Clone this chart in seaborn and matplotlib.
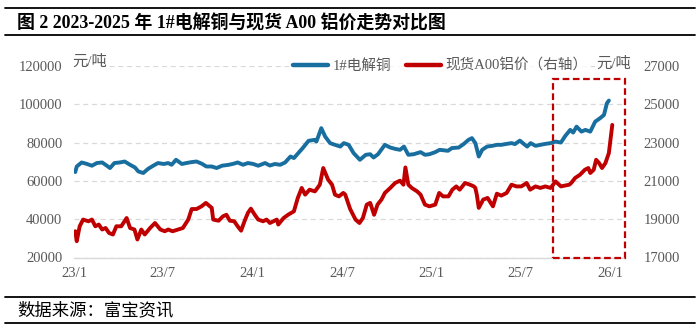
import numpy as np
import pandas as pd
import matplotlib
matplotlib.use("Agg")
import matplotlib.pyplot as plt
import matplotlib.dates as mdates
from matplotlib.lines import Line2D
from matplotlib.patches import Rectangle
import seaborn as sns

# ---------------- data ----------------
cu_dates = [
    "2023-01-03", "2023-01-06", "2023-01-16", "2023-01-26",
    "2023-02-06", "2023-02-16", "2023-02-27",
    "2023-03-08", "2023-03-15", "2023-03-24",
    "2023-04-04", "2023-04-14", "2023-04-25",
    "2023-05-05", "2023-05-12", "2023-05-22",
    "2023-06-01", "2023-06-12", "2023-06-21",
    "2023-07-03", "2023-07-12", "2023-07-19", "2023-07-28",
    "2023-08-09", "2023-08-18", "2023-08-29",
    "2023-09-08", "2023-09-19", "2023-09-28",
    "2023-10-09", "2023-10-19", "2023-10-30",
    "2023-11-13", "2023-11-22",
    "2023-12-01", "2023-12-12", "2023-12-22",
    "2024-01-02", "2024-01-12", "2024-01-26",
    "2024-02-05", "2024-02-15", "2024-02-26",
    "2024-03-07", "2024-03-18", "2024-03-25",
    "2024-04-03", "2024-04-12", "2024-04-24",
    "2024-05-06", "2024-05-10", "2024-05-20", "2024-05-28",
    "2024-06-07", "2024-06-17", "2024-06-28",
    "2024-07-05", "2024-07-15", "2024-07-25",
    "2024-08-07", "2024-08-19", "2024-08-28",
    "2024-09-04", "2024-09-13", "2024-09-27",
    "2024-10-08", "2024-10-18", "2024-10-28",
    "2024-11-05", "2024-11-14", "2024-11-25",
    "2024-12-09", "2024-12-18", "2024-12-27",
    "2025-01-08", "2025-01-17",
    "2025-02-03", "2025-02-11", "2025-02-25",
    "2025-03-07", "2025-03-17", "2025-03-24", "2025-03-31",
    "2025-04-07", "2025-04-14", "2025-04-24",
    "2025-05-05", "2025-05-14", "2025-05-23",
    "2025-06-03", "2025-06-13", "2025-06-20", "2025-06-30",
    "2025-07-08", "2025-07-15", "2025-07-22",
    "2025-08-01", "2025-08-11", "2025-08-21",
    "2025-09-01", "2025-09-11", "2025-09-22",
    "2025-10-01", "2025-10-11", "2025-10-17", "2025-10-24",
    "2025-11-03", "2025-11-11", "2025-11-21",
    "2025-12-01", "2025-12-11", "2025-12-19", "2025-12-25", "2025-12-29",
]
cu_prices = [
    64600, 67500, 69600, 68900,
    67900, 69300, 69600,
    68000, 66700, 69300,
    69600, 70100, 68400,
    67000, 64900, 64100,
    66300, 68000, 69300,
    68800, 69300, 68400, 71000,
    68800, 69300, 69800,
    70100, 68900, 67500,
    67500, 66700, 67900,
    68400, 68900,
    69600, 68400, 69300,
    68800, 67900, 69300,
    68000, 68800, 68400,
    69600, 72700, 71900,
    74500, 77100, 80900,
    81400, 80500, 87500, 83100,
    79700, 78800, 77900,
    79700, 78800, 74500,
    71000, 73600, 73900,
    72200, 73900, 78800,
    77400, 76700, 76200,
    77900, 73600, 73900,
    75000, 73600, 73900,
    75000, 76200,
    75700, 77100, 77400,
    79200, 81400, 82300, 79700,
    72700, 76200, 77900,
    78300, 78800, 78800,
    79300, 79700, 79200, 81000,
    79300, 77900, 79700,
    78300, 78800, 79300,
    79700, 80500, 80000,
    83500, 86600, 85200, 88300,
    85700, 86600, 85700,
    90900, 92700, 94400, 100500, 101900,
]

al_dates = [
    "2023-01-03", "2023-01-06", "2023-01-12", "2023-01-19", "2023-01-30",
    "2023-02-06", "2023-02-13", "2023-02-20", "2023-02-27",
    "2023-03-06", "2023-03-13", "2023-03-21", "2023-03-28",
    "2023-04-07", "2023-04-18", "2023-04-25",
    "2023-05-04", "2023-05-10", "2023-05-18", "2023-05-25",
    "2023-06-05", "2023-06-15", "2023-06-26",
    "2023-07-05", "2023-07-12", "2023-07-21",
    "2023-08-01", "2023-08-11", "2023-08-22", "2023-08-29",
    "2023-09-08", "2023-09-18", "2023-09-27",
    "2023-10-09", "2023-10-12", "2023-10-23",
    "2023-11-01", "2023-11-08", "2023-11-15", "2023-11-24",
    "2023-12-01", "2023-12-08", "2023-12-15", "2023-12-22", "2023-12-28",
    "2024-01-05", "2024-01-12", "2024-01-22", "2024-01-29",
    "2024-02-05", "2024-02-19", "2024-02-22",
    "2024-03-04", "2024-03-13", "2024-03-25",
    "2024-04-02", "2024-04-10", "2024-04-17", "2024-04-26",
    "2024-05-07", "2024-05-17", "2024-05-24",
    "2024-06-03", "2024-06-11", "2024-06-17", "2024-06-25",
    "2024-07-04", "2024-07-08", "2024-07-18", "2024-07-29",
    "2024-08-06", "2024-08-13", "2024-08-21", "2024-08-28",
    "2024-09-05", "2024-09-12", "2024-09-20", "2024-09-27",
    "2024-10-08", "2024-10-18", "2024-10-28",
    "2024-11-04", "2024-11-08", "2024-11-14", "2024-11-21",
    "2024-12-02", "2024-12-09", "2024-12-18", "2024-12-27",
    "2025-01-08", "2025-01-16", "2025-01-24",
    "2025-02-04", "2025-02-12", "2025-02-20", "2025-02-27",
    "2025-03-10", "2025-03-20", "2025-03-28", "2025-03-31",
    "2025-04-03", "2025-04-07", "2025-04-16", "2025-04-25",
    "2025-05-06", "2025-05-14", "2025-05-23",
    "2025-06-03", "2025-06-13", "2025-06-23",
    "2025-07-03", "2025-07-14", "2025-07-21",
    "2025-08-01", "2025-08-11", "2025-08-21",
    "2025-09-01", "2025-09-11", "2025-09-22",
    "2025-10-09", "2025-10-13", "2025-10-21", "2025-10-31",
    "2025-11-10", "2025-11-17", "2025-11-21", "2025-11-28",
    "2025-12-03", "2025-12-09", "2025-12-15", "2025-12-22", "2025-12-29",
    "2026-01-02", "2026-01-05",
]
al_prices = [
    18370, 17850, 18630, 18980, 18890,
    18980, 18630, 18720, 18460,
    18540, 18280, 18200, 18630,
    18630, 19060, 18540,
    18460, 17940, 18460, 18200,
    18540, 18800, 18460,
    18370, 18460, 18370,
    18460, 18540, 18980, 19530,
    19530, 19670, 19850,
    19590, 18980, 18920,
    19150, 19230, 18920, 18890,
    18630, 18400, 18890, 19330, 19550,
    19230, 18980, 18890, 18980,
    18800, 18980, 18720,
    19060, 19230, 19410,
    20110, 20630, 20280, 20540,
    20450, 20800, 21670,
    21060, 20800, 20280, 20190,
    20370, 20280, 19530, 18980,
    18800, 19060, 19760, 19850,
    19230, 19760, 20020, 20370,
    20630, 20890, 21010,
    20800, 21700, 20800, 20630,
    20450, 20280, 19760, 19670,
    19760, 20370, 20190,
    20190, 20540, 20710, 20540,
    20890, 20800, 20710, 20630,
    20280, 19590, 20020, 20110,
    19670, 20330, 20230,
    20370, 20800, 20710,
    20710, 20890, 20540,
    20710, 20630, 20710,
    20630, 20970, 20710,
    20800, 20890, 21150, 21320,
    21580, 21670, 21410, 21580,
    22100, 21930, 21670, 21930, 22450,
    23310, 23920,
]

tick_dates = ["2023-01-01", "2023-07-01", "2024-01-01", "2024-07-01",
              "2025-01-01", "2025-07-01", "2026-01-01"]
tick_labels = ["23/1", "23/7", "24/1", "24/7", "25/1", "25/7", "26/1"]
left_ticks = [20000, 40000, 60000, 80000, 100000, 120000]
right_ticks = [17000, 19000, 21000, 23000, 25000, 27000]

cu_name = "1#电解铜"
al_name = "现货A00铝价（右轴）"
title = "图 2 2023-2025 年 1#电解铜与现货 A00 铝价走势对比图"
source = "数据来源：富宝资讯"
unit = "元/吨"

# highlight window (red dashed box)
hl_start, hl_end = "2025-09-06", "2026-01-31"
hl_top = 113200

# ---------------- styling ----------------
sns.set_theme(style="white")
FAM = ['Liberation Serif', 'Noto Sans CJK SC', 'DejaVu Sans']
plt.rcParams['font.family'] = FAM
plt.rcParams['axes.unicode_minus'] = False

CU_COLOR = "#186E9E"
AL_COLOR = "#C00000"
GRID = "#D9D9D9"
LABEL = "#595959"

W, H = 700, 328
fig = plt.figure(figsize=(W / 100, H / 100), dpi=100)
fx = lambda px: px / W
fy = lambda py: 1 - py / H

ax = fig.add_axes([fx(74.3), fy(257.5), fx(625) - fx(74.3), fy(65.9) - fy(257.5)])
ax2 = ax.twinx()

df_cu = pd.DataFrame({"date": pd.to_datetime(cu_dates), "price": cu_prices})
df_al = pd.DataFrame({"date": pd.to_datetime(al_dates), "price": al_prices})

sns.lineplot(data=df_cu, x="date", y="price", ax=ax, color=CU_COLOR,
             linewidth=2.8, legend=False, zorder=3)
sns.lineplot(data=df_al, x="date", y="price", ax=ax2, color=AL_COLOR,
             linewidth=2.8, legend=False, zorder=3)

xmin, xmax = pd.Timestamp("2023-01-01"), pd.Timestamp(hl_end)
ax.set_xlim(xmin, xmax)
ax.set_ylim(20000, 120000)
ax2.set_ylim(17000, 27000)

ax.set_xticks(pd.to_datetime(tick_dates))
ax.set_xticklabels(tick_labels)
ax.set_yticks(left_ticks)
ax.set_yticklabels([str(v) for v in left_ticks])
ax2.set_yticks(right_ticks)
ax2.set_yticklabels([str(v) for v in right_ticks])

for a in (ax, ax2):
    a.set_xlabel("")
    a.set_ylabel("")
    for s in a.spines.values():
        s.set_visible(False)
ax.spines['bottom'].set_visible(True)
ax.spines['bottom'].set_color(GRID)
ax.spines['bottom'].set_linewidth(1.0)

ax.yaxis.grid(True, color=GRID, linestyle=(0, (4, 3)), linewidth=0.9)
ax.xaxis.grid(False)
ax.set_axisbelow(True)

ax.tick_params(axis='y', length=0, pad=8.5, labelsize=10.5, labelcolor=LABEL)
ax.tick_params(axis='x', length=3, width=0.8, color=GRID, direction='out',
               pad=4, labelsize=10.5, labelcolor=LABEL)
ax2.tick_params(axis='y', length=0, pad=13.5, labelsize=10.5, labelcolor=LABEL)

# red dashed highlight box
x0 = mdates.date2num(pd.Timestamp(hl_start))
x1 = mdates.date2num(pd.Timestamp(hl_end))
ax.add_patch(Rectangle((x0, 20000), x1 - x0, hl_top - 20000, fill=False,
                       edgecolor=AL_COLOR, linewidth=1.6,
                       linestyle=(0, (3, 1.6)), clip_on=False, zorder=5))

# legend
handles = [Line2D([], [], color=CU_COLOR, lw=3.2, solid_capstyle='round'),
           Line2D([], [], color=AL_COLOR, lw=3.2, solid_capstyle='round')]
leg = fig.legend(handles, [cu_name, al_name], loc='center',
                 bbox_to_anchor=(fx(440), fy(66)), ncol=2, frameon=True,
                 fontsize=10.5, handlelength=2.4, handletextpad=0.3,
                 columnspacing=1.0, borderpad=0.15, borderaxespad=0)
leg.get_frame().set_facecolor('white')
leg.get_frame().set_edgecolor('none')
for t in leg.get_texts():
    t.set_color(LABEL)

# units
fig.text(fx(72), fy(62), unit, fontsize=11, color=LABEL, ha='left', va='center',
         bbox=dict(facecolor='white', edgecolor='none', pad=1))
fig.text(fx(596), fy(64), unit, fontsize=11, color=LABEL, ha='left', va='center',
         bbox=dict(facecolor='white', edgecolor='none', pad=1))

# title, source and rules
fig.text(fx(17), fy(23), title, fontsize=12.9, fontweight='bold', color='black',
         ha='left', va='center')
fig.text(fx(17), fy(311), source, fontsize=12.5, color='black', ha='left', va='center')
for yy, lw in [(8, 1.3), (35, 1.3), (296.5, 1.3), (322.5, 1.3)]:
    fig.add_artist(Line2D([fx(5), fx(695)], [fy(yy), fy(yy)], color='black', lw=lw))

fig.savefig("out.png", dpi=100)
